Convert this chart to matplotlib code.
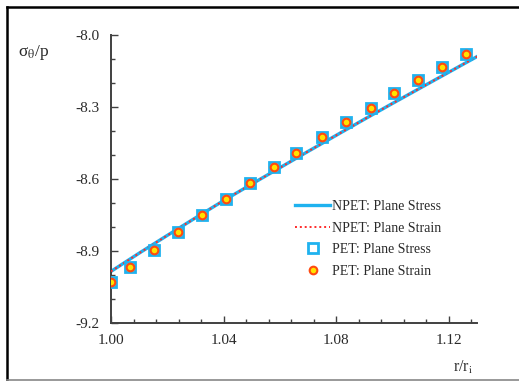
import matplotlib
matplotlib.use("Agg")
import matplotlib.pyplot as plt
from matplotlib.lines import Line2D
from matplotlib.ticker import FixedLocator, MultipleLocator

plt.rcParams["font.family"] = ["Liberation Serif", "DejaVu Serif"]
plt.rcParams["mathtext.fontset"] = "stix"

# NPET curves (both cases overlap)
r_line = [1.00, 1.01, 1.02, 1.03, 1.04, 1.05, 1.06, 1.07, 1.08, 1.09, 1.10, 1.11, 1.12, 1.13]
npet_stress = [-8.985, -8.909, -8.835, -8.762, -8.690, -8.621, -8.553, -8.485, -8.418,
               -8.351, -8.285, -8.220, -8.155, -8.090]
npet_strain = list(npet_stress)

# PET points
r_pts = [1.000, 1.0067, 1.0153, 1.0237, 1.0322, 1.0407, 1.0493, 1.0579, 1.0657, 1.0748,
         1.0834, 1.0922, 1.1006, 1.1091, 1.1177, 1.1260]
pet_stress = [-9.028, -8.968, -8.895, -8.822, -8.750, -8.683, -8.615, -8.551, -8.493,
              -8.426, -8.363, -8.303, -8.243, -8.188, -8.132, -8.079]
pet_strain = list(pet_stress)

x_ticks = [1.00, 1.04, 1.08, 1.12]
y_ticks = [-9.2, -8.9, -8.6, -8.3, -8.0]

blue = "#1fb2ef"
red = "#ff2a2a"
txt = "#2a2a2a"

fig = plt.figure(figsize=(5.19, 3.81), dpi=100)
ax = fig.add_axes([111 / 519, 1 - 323 / 381, 366 / 519, 288 / 381])

ax.plot(r_line, npet_stress, color=blue, lw=2.4, label="NPET: Plane Stress", zorder=2)
ax.plot(r_line, npet_strain, color=red, lw=1.4, ls=(0, (1, 1.5)), label="NPET: Plane Strain", zorder=3)
ax.plot(r_pts, pet_stress, ls="none", marker="s", ms=7.5, mfc="white", mec=blue, mew=2.0,
        label="PET: Plane Stress", zorder=4)
ax.plot(r_pts, pet_strain, ls="none", marker="o", ms=5.5, mfc="#ffe400", mec="#ff4a10", mew=1.5,
        label="PET: Plane Strain", zorder=5)

ax.set_xlim(1.00, 1.13)
ax.set_ylim(-9.2, -8.0)
ax.xaxis.set_major_locator(FixedLocator(x_ticks))
ax.xaxis.set_minor_locator(MultipleLocator(0.008))
ax.yaxis.set_major_locator(FixedLocator(y_ticks))
ax.yaxis.set_minor_locator(MultipleLocator(0.1))
ax.xaxis.set_major_formatter(lambda v, p: f"{v:.2f}")
ax.yaxis.set_major_formatter(lambda v, p: f"{v:.1f}")

for s in ["top", "right"]:
    ax.spines[s].set_visible(False)
for s in ["left", "bottom"]:
    ax.spines[s].set_color("#404040")
    ax.spines[s].set_linewidth(1.4)
ax.tick_params(which="both", direction="in", color="#404040", width=1.0, labelsize=11,
               labelcolor=txt)
ax.tick_params(which="major", length=5, pad=8)
ax.tick_params(which="minor", length=3)

fig.text(18 / 519, 1 - 53 / 381, r"σ$_{\mathrm{θ}}$/p", fontsize=12.5, color=txt, va="center", ha="left")
fig.text(463 / 519, 1 - 367 / 381, r"r/r$_\mathrm{i}$", fontsize=11.5, color=txt, va="center", ha="center")

ax.legend(loc="upper left", bbox_to_anchor=(295 / 519, 1 - 200 / 381), bbox_transform=fig.transFigure,
          frameon=False, fontsize=10, handlelength=2.55, handletextpad=0.15, labelspacing=0.62,
          borderaxespad=0, borderpad=0, labelcolor=txt)

# image border (top, left, bottom)
fig.add_artist(Line2D([7 / 519, 1], [1 - 7 / 381, 1 - 7 / 381], color="black", lw=1.8, transform=fig.transFigure))
fig.add_artist(Line2D([7 / 519, 7 / 519], [1 - 7 / 381, 1 - 380 / 381], color="black", lw=1.8, transform=fig.transFigure))
fig.add_artist(Line2D([7 / 519, 1], [1 - 380 / 381, 1 - 380 / 381], color="#888888", lw=1.2, transform=fig.transFigure))

fig.savefig("out.png", dpi=100)
